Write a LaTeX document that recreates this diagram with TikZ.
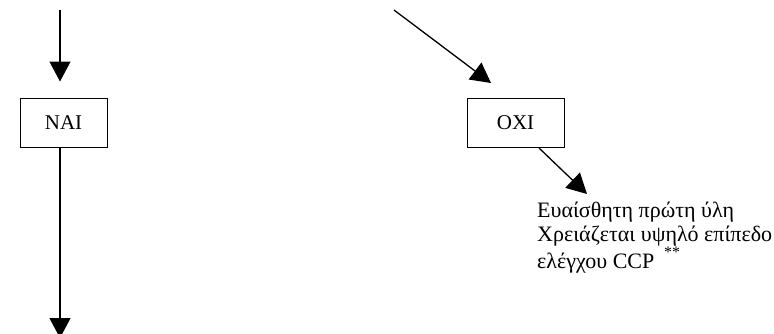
\documentclass[tikz,border=0pt]{standalone}
\usepackage{fontspec}
\setmainfont{Liberation Serif}
\usetikzlibrary{arrows.meta}
\begin{document}
\begin{tikzpicture}[x=1pt, y=-1pt,
  arr/.style={-{Triangle[width=21pt,length=20pt]}, line width=1.3pt},
  box/.style={draw, line width=1pt, minimum height=49pt, inner sep=0pt,
    font=\fontsize{21}{24}\selectfont},
  note/.style={align=left, inner sep=0pt, font=\fontsize{22}{23.8}\selectfont}]
  \useasboundingbox (0,0) rectangle (774,333);

  % the two answer boxes
  \node[box, minimum width=87pt] (nai) at (63.5,122.5) {NAI};
  \node[box, minimum width=97pt] (oxi) at (515.5,123) {OXI};

  % free ends of the connectors
  \coordinate (a1) at (60,10);
  \coordinate (a2tip) at (60,338);
  \coordinate (d1) at (394,10);
  \coordinate (d1tip) at (491,83);
  \coordinate (d2tip) at (587,194);

  % left branch
  \draw[arr, shorten >=16pt] (a1) -- (a1 |- nai.north);
  \draw[arr] (a1 |- nai.south) -- (a2tip);

  % right branch
  \draw[arr] (d1) -- (d1tip);
  \draw[arr] ([xshift=23.5pt]oxi.south) -- (d2tip);

  % outcome text
  \node[note, anchor=north west] (res) at (537,202)
    {Ευαίσθητη πρώτη ύλη\\
     Χρειάζεται υψηλό επίπεδο\\
     ελέγχου CCP\hspace{0.45em}\raisebox{0.5em}{\fontsize{16}{16}\selectfont **}};
\end{tikzpicture}
\end{document}
